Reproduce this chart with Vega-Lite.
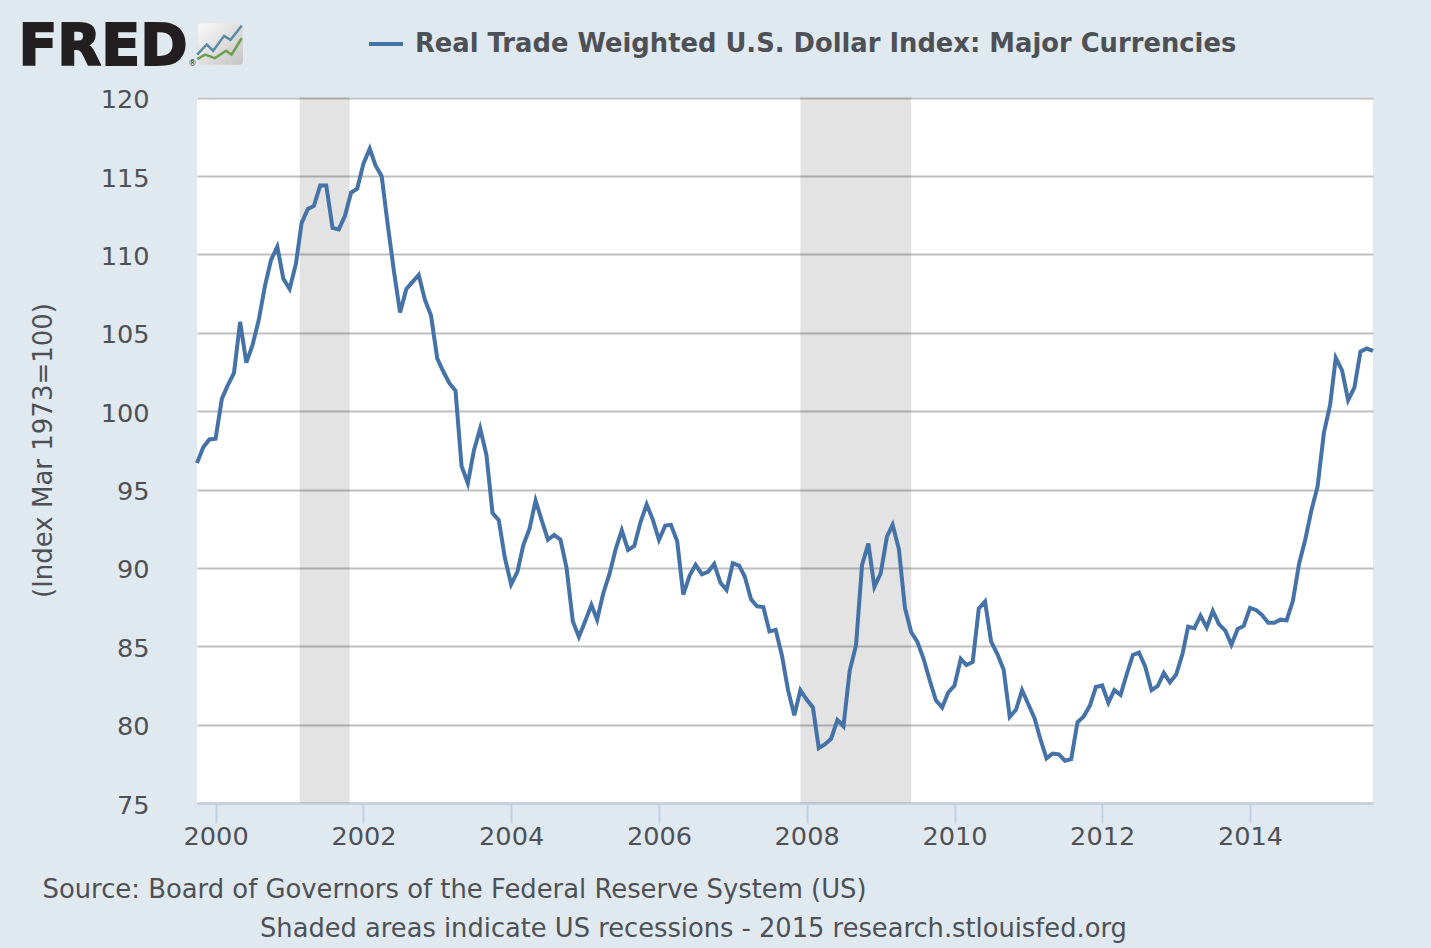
{"$schema":"https://vega.github.io/schema/vega-lite/v6.json","width":1176,"height":706,"autosize":{"type":"none"},"padding":{"left":197,"top":97,"right":58,"bottom":145},"background":"#e1e9f0","view":{"fill":"#ffffff","stroke":null},"title":{"text":"Shaded areas indicate US recessions - 2015 research.stlouisfed.org","orient":"bottom","anchor":"start","frame":"group","dx":63,"offset":15,"font":"DejaVu Sans","fontSize":25.73,"fontWeight":"normal","color":"#4d5156"},"config":{"font":"DejaVu Sans"},"datasets":{"dollar":[{"date":"1999-10-01","value":96.7},{"date":"1999-11-01","value":97.7},{"date":"1999-12-01","value":98.2},{"date":"2000-01-01","value":98.25},{"date":"2000-02-01","value":100.8},{"date":"2000-03-01","value":101.65},{"date":"2000-04-01","value":102.45},{"date":"2000-05-01","value":105.7},{"date":"2000-06-01","value":103.1},{"date":"2000-07-01","value":104.2},{"date":"2000-08-01","value":105.8},{"date":"2000-09-01","value":108.0},{"date":"2000-10-01","value":109.65},{"date":"2000-11-01","value":110.5},{"date":"2000-12-01","value":108.45},{"date":"2001-01-01","value":107.8},{"date":"2001-02-01","value":109.4},{"date":"2001-03-01","value":112.0},{"date":"2001-04-01","value":112.9},{"date":"2001-05-01","value":113.1},{"date":"2001-06-01","value":114.4},{"date":"2001-07-01","value":114.4},{"date":"2001-08-01","value":111.7},{"date":"2001-09-01","value":111.6},{"date":"2001-10-01","value":112.45},{"date":"2001-11-01","value":113.95},{"date":"2001-12-01","value":114.2},{"date":"2002-01-01","value":115.8},{"date":"2002-02-01","value":116.75},{"date":"2002-03-01","value":115.7},{"date":"2002-04-01","value":115.0},{"date":"2002-05-01","value":111.9},{"date":"2002-06-01","value":108.9},{"date":"2002-07-01","value":106.3},{"date":"2002-08-01","value":107.8},{"date":"2002-09-01","value":108.25},{"date":"2002-10-01","value":108.7},{"date":"2002-11-01","value":107.1},{"date":"2002-12-01","value":106.1},{"date":"2003-01-01","value":103.35},{"date":"2003-02-01","value":102.5},{"date":"2003-03-01","value":101.8},{"date":"2003-04-01","value":101.3},{"date":"2003-05-01","value":96.5},{"date":"2003-06-01","value":95.4},{"date":"2003-07-01","value":97.5},{"date":"2003-08-01","value":98.9},{"date":"2003-09-01","value":97.2},{"date":"2003-10-01","value":93.5},{"date":"2003-11-01","value":93.05},{"date":"2003-12-01","value":90.65},{"date":"2004-01-01","value":88.95},{"date":"2004-02-01","value":89.75},{"date":"2004-03-01","value":91.45},{"date":"2004-04-01","value":92.5},{"date":"2004-05-01","value":94.3},{"date":"2004-06-01","value":93.0},{"date":"2004-07-01","value":91.8},{"date":"2004-08-01","value":92.1},{"date":"2004-09-01","value":91.8},{"date":"2004-10-01","value":90.0},{"date":"2004-11-01","value":86.6},{"date":"2004-12-01","value":85.6},{"date":"2005-01-01","value":86.6},{"date":"2005-02-01","value":87.65},{"date":"2005-03-01","value":86.7},{"date":"2005-04-01","value":88.4},{"date":"2005-05-01","value":89.6},{"date":"2005-06-01","value":91.2},{"date":"2005-07-01","value":92.4},{"date":"2005-08-01","value":91.15},{"date":"2005-09-01","value":91.4},{"date":"2005-10-01","value":92.9},{"date":"2005-11-01","value":94.05},{"date":"2005-12-01","value":93.1},{"date":"2006-01-01","value":91.8},{"date":"2006-02-01","value":92.7},{"date":"2006-03-01","value":92.75},{"date":"2006-04-01","value":91.7},{"date":"2006-05-01","value":88.3},{"date":"2006-06-01","value":89.5},{"date":"2006-07-01","value":90.2},{"date":"2006-08-01","value":89.6},{"date":"2006-09-01","value":89.75},{"date":"2006-10-01","value":90.25},{"date":"2006-11-01","value":89.05},{"date":"2006-12-01","value":88.6},{"date":"2007-01-01","value":90.3},{"date":"2007-02-01","value":90.15},{"date":"2007-03-01","value":89.45},{"date":"2007-04-01","value":88.0},{"date":"2007-05-01","value":87.55},{"date":"2007-06-01","value":87.5},{"date":"2007-07-01","value":85.95},{"date":"2007-08-01","value":86.05},{"date":"2007-09-01","value":84.4},{"date":"2007-10-01","value":82.2},{"date":"2007-11-01","value":80.6},{"date":"2007-12-01","value":82.2},{"date":"2008-01-01","value":81.6},{"date":"2008-02-01","value":81.1},{"date":"2008-03-01","value":78.5},{"date":"2008-04-01","value":78.75},{"date":"2008-05-01","value":79.1},{"date":"2008-06-01","value":80.3},{"date":"2008-07-01","value":79.9},{"date":"2008-08-01","value":83.45},{"date":"2008-09-01","value":85.05},{"date":"2008-10-01","value":90.2},{"date":"2008-11-01","value":91.55},{"date":"2008-12-01","value":88.8},{"date":"2009-01-01","value":89.65},{"date":"2009-02-01","value":92.0},{"date":"2009-03-01","value":92.75},{"date":"2009-04-01","value":91.2},{"date":"2009-05-01","value":87.45},{"date":"2009-06-01","value":85.9},{"date":"2009-07-01","value":85.3},{"date":"2009-08-01","value":84.2},{"date":"2009-09-01","value":82.8},{"date":"2009-10-01","value":81.55},{"date":"2009-11-01","value":81.1},{"date":"2009-12-01","value":82.05},{"date":"2010-01-01","value":82.5},{"date":"2010-02-01","value":84.2},{"date":"2010-03-01","value":83.8},{"date":"2010-04-01","value":84.0},{"date":"2010-05-01","value":87.4},{"date":"2010-06-01","value":87.85},{"date":"2010-07-01","value":85.3},{"date":"2010-08-01","value":84.5},{"date":"2010-09-01","value":83.5},{"date":"2010-10-01","value":80.5},{"date":"2010-11-01","value":80.95},{"date":"2010-12-01","value":82.2},{"date":"2011-01-01","value":81.3},{"date":"2011-02-01","value":80.4},{"date":"2011-03-01","value":79.1},{"date":"2011-04-01","value":77.85},{"date":"2011-05-01","value":78.15},{"date":"2011-06-01","value":78.1},{"date":"2011-07-01","value":77.7},{"date":"2011-08-01","value":77.8},{"date":"2011-09-01","value":80.15},{"date":"2011-10-01","value":80.5},{"date":"2011-11-01","value":81.2},{"date":"2011-12-01","value":82.4},{"date":"2012-01-01","value":82.5},{"date":"2012-02-01","value":81.4},{"date":"2012-03-01","value":82.2},{"date":"2012-04-01","value":81.9},{"date":"2012-05-01","value":83.2},{"date":"2012-06-01","value":84.45},{"date":"2012-07-01","value":84.6},{"date":"2012-08-01","value":83.7},{"date":"2012-09-01","value":82.2},{"date":"2012-10-01","value":82.45},{"date":"2012-11-01","value":83.3},{"date":"2012-12-01","value":82.7},{"date":"2013-01-01","value":83.2},{"date":"2013-02-01","value":84.5},{"date":"2013-03-01","value":86.25},{"date":"2013-04-01","value":86.15},{"date":"2013-05-01","value":86.95},{"date":"2013-06-01","value":86.2},{"date":"2013-07-01","value":87.25},{"date":"2013-08-01","value":86.4},{"date":"2013-09-01","value":86.0},{"date":"2013-10-01","value":85.1},{"date":"2013-11-01","value":86.1},{"date":"2013-12-01","value":86.3},{"date":"2014-01-01","value":87.45},{"date":"2014-02-01","value":87.3},{"date":"2014-03-01","value":87.0},{"date":"2014-04-01","value":86.5},{"date":"2014-05-01","value":86.5},{"date":"2014-06-01","value":86.7},{"date":"2014-07-01","value":86.65},{"date":"2014-08-01","value":87.9},{"date":"2014-09-01","value":90.3},{"date":"2014-10-01","value":91.8},{"date":"2014-11-01","value":93.7},{"date":"2014-12-01","value":95.2},{"date":"2015-01-01","value":98.6},{"date":"2015-02-01","value":100.4},{"date":"2015-03-01","value":103.4},{"date":"2015-04-01","value":102.6},{"date":"2015-05-01","value":100.7},{"date":"2015-06-01","value":101.5},{"date":"2015-07-01","value":103.8},{"date":"2015-08-01","value":104.0},{"date":"2015-09-01","value":103.85}]},"layer":[{"data":{"values":[{"start":"2001-02-20","end":"2001-10-25"},{"start":"2007-12-01","end":"2009-06-01"}]},"mark":{"type":"rect","color":"#000000","opacity":0.11},"encoding":{"x":{"field":"start","type":"temporal","scale":{"type":"utc","domain":["1999-10-01","2015-09-01"]},"axis":{"format":"%Y","tickCount":{"interval":"year","step":2},"grid":false,"domainColor":"#c0d0e0","domainWidth":2,"tickColor":"#c0d0e0","tickWidth":2,"tickSize":20,"labelFont":"DejaVu Sans","labelFontSize":25.6,"labelColor":"#4d5156","labelPadding":1,"labelOverlap":false,"title":"Source: Board of Governors of the Federal Reserve System (US)","titleFont":"DejaVu Sans","titleFontSize":25.85,"titleFontWeight":"normal","titleColor":"#4d5156","titleAlign":"left","titleAnchor":"start","titleBaseline":"alphabetic","titleX":-155,"titleY":94}},"x2":{"field":"end"}}},{"data":{"name":"dollar"},"transform":[{"calculate":"'Real Trade Weighted U.S. Dollar Index: Major Currencies'","as":"series"}],"mark":{"type":"line","strokeWidth":4,"interpolate":"linear"},"encoding":{"x":{"field":"date","type":"temporal"},"y":{"field":"value","type":"quantitative","scale":{"domain":[75,120.05],"nice":false,"zero":false},"axis":{"values":[75,80,85,90,95,100,105,110,115,120],"grid":true,"gridColor":"#c0c0c0","gridWidth":2,"domain":false,"ticks":false,"labelFont":"DejaVu Sans","labelFontSize":25.6,"labelColor":"#4d5156","labelPadding":48,"labelOffset":2,"title":"(Index Mar 1973=100)","titleFont":"DejaVu Sans","titleFontSize":26,"titleFontWeight":"normal","titleColor":"#4d5156","titleX":-141,"titleY":353,"titleAnchor":"middle"}},"color":{"field":"series","type":"nominal","scale":{"range":["#4572a7"]},"legend":{"orient":"none","legendX":170,"legendY":-72,"title":null,"padding":0,"symbolType":"stroke","symbolSize":1156,"symbolStrokeWidth":4,"labelFont":"DejaVu Sans","labelFontSize":25.8,"labelFontWeight":"bold","labelColor":"#4d5156","labelLimit":1000,"labelOffset":10}}}},{"data":{"values":[{"x":"1999-10-07","x2":"2000-05-15","y":122.1,"y2":124.75}]},"mark":{"type":"rect","cornerRadius":3,"clip":false,"fill":{"gradient":"linear","x1":0,"y1":0,"x2":1,"y2":1,"stops":[{"offset":0,"color":"#fafafa"},{"offset":1,"color":"#c4c4c4"}]}},"encoding":{"x":{"field":"x","type":"temporal"},"x2":{"field":"x2"},"y":{"field":"y","type":"quantitative"},"y2":{"field":"y2"}}},{"data":{"values":[{"date":"1999-10-02","value":122.75},{"date":"1999-11-18","value":123.4},{"date":"1999-12-20","value":123.0},{"date":"2000-02-12","value":123.95},{"date":"2000-03-15","value":123.7},{"date":"2000-05-09","value":124.6}]},"mark":{"type":"line","clip":false,"strokeWidth":2.5,"color":"#5b8ba8"},"encoding":{"x":{"field":"date","type":"temporal"},"y":{"field":"value","type":"quantitative"}}},{"data":{"values":[{"date":"1999-10-02","value":122.47},{"date":"1999-11-10","value":122.75},{"date":"1999-12-29","value":122.53},{"date":"2000-02-22","value":123.0},{"date":"2000-03-20","value":122.75},{"date":"2000-05-09","value":123.8}]},"mark":{"type":"line","clip":false,"strokeWidth":2.5,"color":"#6f9e4e"},"encoding":{"x":{"field":"date","type":"temporal"},"y":{"field":"value","type":"quantitative"}}},{"data":{"values":[{"date":"1997-05-01","value":122.1,"label":"FRED"}]},"mark":{"type":"text","clip":false,"align":"left","baseline":"alphabetic","font":"DejaVu Sans","fontWeight":"bold","fontSize":57,"color":"#231f20","stroke":"#231f20","strokeWidth":2},"encoding":{"x":{"field":"date","type":"temporal"},"y":{"field":"value","type":"quantitative"},"text":{"field":"label"}}},{"data":{"values":[{"date":"1999-08-20","value":122.0,"label":"®"}]},"mark":{"type":"text","clip":false,"align":"left","baseline":"alphabetic","font":"DejaVu Sans","fontSize":8,"color":"#231f20"},"encoding":{"x":{"field":"date","type":"temporal"},"y":{"field":"value","type":"quantitative"},"text":{"field":"label"}}}]}
